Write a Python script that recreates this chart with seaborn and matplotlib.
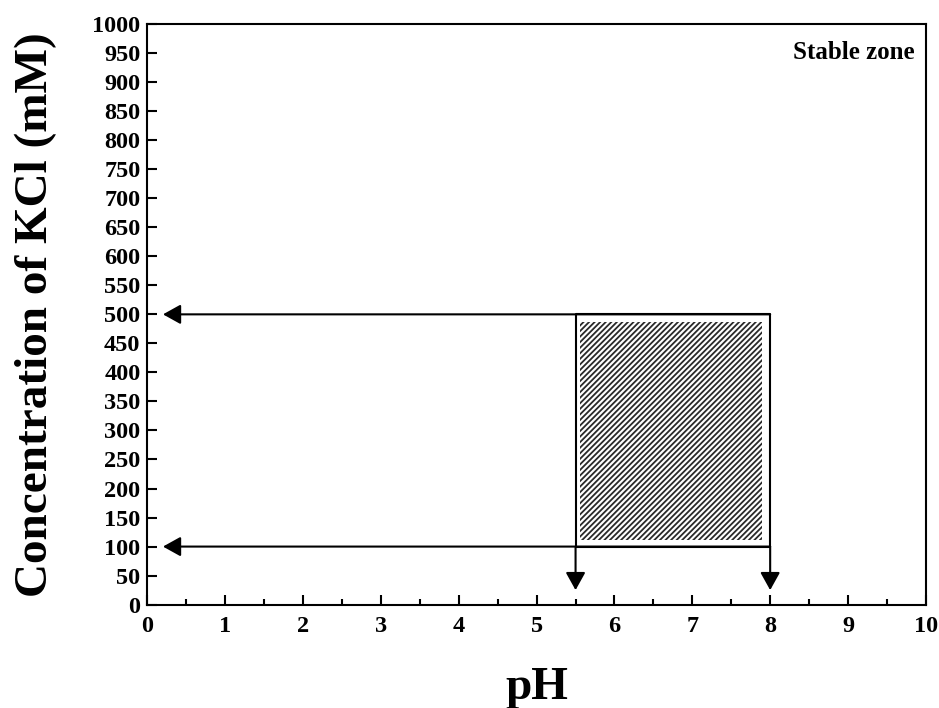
import matplotlib
matplotlib.use("Agg")
import matplotlib.pyplot as plt
import seaborn as sns
import pandas as pd
from matplotlib.patches import Rectangle

sns.set_theme(style="ticks")
plt.rcParams['font.family'] = ['Liberation Serif', 'DejaVu Serif']
plt.rcParams['font.weight'] = 'bold'
plt.rcParams['text.color'] = 'black'
plt.rcParams['axes.labelcolor'] = 'black'
plt.rcParams['xtick.color'] = 'black'
plt.rcParams['ytick.color'] = 'black'
plt.rcParams['hatch.color'] = '#2a2a2a'
plt.rcParams['hatch.linewidth'] = 1.3

# Data
ph_range = [5.5, 8.0]            # pH bounds of stable zone
kcl_range = [100, 500]           # KCl bounds (mM)
hatch_ph = [5.56, 7.9]
hatch_kcl = [112, 487]
arrow_end_ph = 0.2
arrow_end_kcl = 25
xticks = list(range(0, 11))
yticks = list(range(0, 1001, 50))

fig, ax = plt.subplots(figsize=(9.39, 7.08), dpi=100)
fig.subplots_adjust(left=0.157, right=0.986, top=0.966, bottom=0.146)

# boundary lines via seaborn
box = pd.DataFrame({"pH": [ph_range[0], ph_range[0], ph_range[1], ph_range[1], ph_range[0]],
                    "KCl": [kcl_range[0], kcl_range[1], kcl_range[1], kcl_range[0], kcl_range[0]]})
sns.lineplot(data=box, x="pH", y="KCl", sort=False, estimator=None, color="black", lw=1.5, ax=ax)

ax.add_patch(Rectangle((hatch_ph[0], hatch_kcl[0]), hatch_ph[1] - hatch_ph[0], hatch_kcl[1] - hatch_kcl[0],
                       fill=False, hatch='//////', lw=0, edgecolor='#2a2a2a'))

aprops = dict(arrowstyle='-|>,head_length=0.9,head_width=0.5', color='black', lw=1.5, shrinkA=0, shrinkB=0)
for k in kcl_range:
    ax.annotate('', xy=(arrow_end_ph, k), xytext=(ph_range[1], k), arrowprops=aprops)
for p in ph_range:
    ax.annotate('', xy=(p, arrow_end_kcl), xytext=(p, kcl_range[0]), arrowprops=aprops)

ax.set_xlim(0, 10)
ax.set_ylim(0, 1000)
ax.set_xticks(xticks)
ax.set_yticks(yticks)
ax.set_xticks([x + 0.5 for x in xticks[:-1]], minor=True)
ax.tick_params(axis='both', which='major', direction='in', length=7, width=1.5, labelsize=17.5)
ax.tick_params(axis='x', which='minor', direction='in', length=4, width=1.5)
ax.tick_params(axis='x', pad=8)
ax.tick_params(axis='y', pad=5)
for lab in ax.get_xticklabels() + ax.get_yticklabels():
    lab.set_fontweight('bold')
for s in ax.spines.values():
    s.set_linewidth(1.5)
    s.set_color('black')

ax.set_xlabel('pH', fontsize=34, fontweight='bold', labelpad=22)
ax.set_ylabel('Concentration of KCl (mM)', fontsize=34, fontweight='bold')
ax.yaxis.set_label_coords(-0.116, 0.5)
ax.text(0.985, 0.97, 'Stable zone', transform=ax.transAxes, ha='right', va='top',
        fontsize=18, fontweight='bold')

fig.savefig('out.png', dpi=100)
